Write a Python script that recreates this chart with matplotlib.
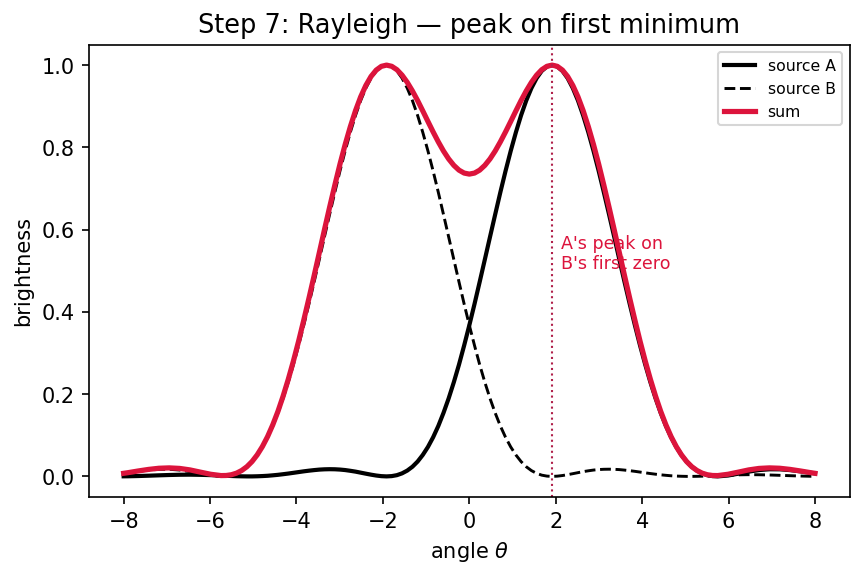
import matplotlib
matplotlib.use('Agg')
import matplotlib.pyplot as plt

# sample angles (finer spacing over the two main lobes, peaks at +-1.916)
angle = [-8.0, -7.903, -7.663, -7.424, -7.184, -6.945, -6.705, -6.466, -6.226, -5.987,
         -5.748, -5.628, -5.508, -5.388, -5.269, -5.149, -5.029, -4.909, -4.790, -4.670,
         -4.550, -4.430, -4.311, -4.191, -4.071, -3.951, -3.832, -3.712, -3.592, -3.472,
         -3.353, -3.233, -3.113, -2.994, -2.874, -2.754, -2.634, -2.515, -2.395, -2.275,
         -2.155, -2.036, -1.916, -1.796, -1.676, -1.557, -1.437, -1.317, -1.197, -1.078,
         -0.958, -0.838, -0.718, -0.599, -0.479, -0.359, -0.239, -0.120, 0.0, 0.120,
         0.239, 0.359, 0.479, 0.599, 0.718, 0.838, 0.958, 1.078, 1.197, 1.317,
         1.437, 1.557, 1.676, 1.796, 1.916, 2.036, 2.155, 2.275, 2.395, 2.515,
         2.634, 2.754, 2.874, 2.994, 3.113, 3.233, 3.353, 3.472, 3.592, 3.712,
         3.832, 3.951, 4.071, 4.191, 4.311, 4.430, 4.550, 4.670, 4.790, 4.909,
         5.029, 5.149, 5.269, 5.388, 5.508, 5.628, 5.748, 5.987, 6.226, 6.466,
         6.705, 6.945, 7.184, 7.424, 7.663, 7.903, 8.0]

source_a = [0.0002, 0.0003, 0.0009, 0.0017, 0.0026, 0.0034, 0.0040, 0.0042, 0.0038, 0.0031,
            0.0020, 0.0015, 0.0010, 0.0005, 0.0002, 0.0000, 0.0000, 0.0003, 0.0008, 0.0015,
            0.0026, 0.0038, 0.0053, 0.0069, 0.0087, 0.0105, 0.0123, 0.0139, 0.0153, 0.0165,
            0.0172, 0.0175, 0.0173, 0.0166, 0.0154, 0.0136, 0.0116, 0.0091, 0.0066, 0.0042,
            0.0021, 0.0006, 0.0000, 0.0007, 0.0030, 0.0074, 0.0141, 0.0235, 0.0361, 0.0521,
            0.0716, 0.0951, 0.1226, 0.1541, 0.1895, 0.2289, 0.2719, 0.3183, 0.3675, 0.4192,
            0.4727, 0.5274, 0.5825, 0.6372, 0.6908, 0.7425, 0.7914, 0.8367, 0.8777, 0.9137,
            0.9440, 0.9682, 0.9858, 0.9964, 1.0000, 0.9964, 0.9858, 0.9682, 0.9440, 0.9137,
            0.8777, 0.8367, 0.7914, 0.7425, 0.6908, 0.6372, 0.5825, 0.5274, 0.4727, 0.4192,
            0.3675, 0.3183, 0.2719, 0.2289, 0.1895, 0.1541, 0.1226, 0.0951, 0.0716, 0.0521,
            0.0361, 0.0235, 0.0141, 0.0074, 0.0030, 0.0007, 0.0000, 0.0021, 0.0066, 0.0116,
            0.0154, 0.0173, 0.0172, 0.0153, 0.0123, 0.0087, 0.0073]

source_b = [0.0073, 0.0087, 0.0123, 0.0153, 0.0172, 0.0173, 0.0154, 0.0116, 0.0066, 0.0021,
            0.0000, 0.0007, 0.0030, 0.0074, 0.0141, 0.0235, 0.0361, 0.0521, 0.0716, 0.0951,
            0.1226, 0.1541, 0.1895, 0.2289, 0.2719, 0.3183, 0.3675, 0.4192, 0.4727, 0.5274,
            0.5825, 0.6372, 0.6908, 0.7425, 0.7914, 0.8367, 0.8777, 0.9137, 0.9440, 0.9682,
            0.9858, 0.9964, 1.0000, 0.9964, 0.9858, 0.9682, 0.9440, 0.9137, 0.8777, 0.8367,
            0.7914, 0.7425, 0.6908, 0.6372, 0.5825, 0.5274, 0.4727, 0.4192, 0.3675, 0.3183,
            0.2719, 0.2289, 0.1895, 0.1541, 0.1226, 0.0951, 0.0716, 0.0521, 0.0361, 0.0235,
            0.0141, 0.0074, 0.0030, 0.0007, 0.0000, 0.0006, 0.0021, 0.0042, 0.0066, 0.0091,
            0.0116, 0.0136, 0.0154, 0.0166, 0.0173, 0.0175, 0.0172, 0.0165, 0.0153, 0.0139,
            0.0123, 0.0105, 0.0087, 0.0069, 0.0053, 0.0038, 0.0026, 0.0015, 0.0008, 0.0003,
            0.0000, 0.0000, 0.0002, 0.0005, 0.0010, 0.0015, 0.0020, 0.0031, 0.0038, 0.0042,
            0.0040, 0.0034, 0.0026, 0.0017, 0.0009, 0.0003, 0.0002]

total = [0.0075, 0.0090, 0.0132, 0.0170, 0.0198, 0.0207, 0.0194, 0.0158, 0.0104, 0.0052,
         0.0020, 0.0022, 0.0040, 0.0079, 0.0143, 0.0235, 0.0361, 0.0524, 0.0724, 0.0966,
         0.1252, 0.1579, 0.1948, 0.2358, 0.2806, 0.3288, 0.3798, 0.4331, 0.4880, 0.5439,
         0.5997, 0.6547, 0.7081, 0.7591, 0.8068, 0.8503, 0.8893, 0.9228, 0.9506, 0.9724,
         0.9879, 0.9970, 1.0000, 0.9971, 0.9888, 0.9756, 0.9581, 0.9372, 0.9138, 0.8888,
         0.8630, 0.8376, 0.8134, 0.7913, 0.7720, 0.7563, 0.7446, 0.7375, 0.7350, 0.7375,
         0.7446, 0.7563, 0.7720, 0.7913, 0.8134, 0.8376, 0.8630, 0.8888, 0.9138, 0.9372,
         0.9581, 0.9756, 0.9888, 0.9971, 1.0000, 0.9970, 0.9879, 0.9724, 0.9506, 0.9228,
         0.8893, 0.8503, 0.8068, 0.7591, 0.7081, 0.6547, 0.5997, 0.5439, 0.4880, 0.4331,
         0.3798, 0.3288, 0.2806, 0.2358, 0.1948, 0.1579, 0.1252, 0.0966, 0.0724, 0.0524,
         0.0361, 0.0235, 0.0143, 0.0079, 0.0040, 0.0022, 0.0020, 0.0052, 0.0104, 0.0158,
         0.0194, 0.0207, 0.0198, 0.0170, 0.0132, 0.0090, 0.0075]

peak_a = 1.916

fig = plt.figure(figsize=(5.75, 3.85), dpi=150)
ax = fig.add_axes([0.1033, 0.1386, 0.8817, 0.7834])
ax.plot(angle, source_a, color='black', lw=2, label='source A')
ax.plot(angle, source_b, color='black', lw=1.4, ls='--', label='source B')
ax.plot(angle, total, color='crimson', lw=2.5, label='sum')
ax.axvline(peak_a, color='#b0204a', lw=1, ls=':')
ax.text(peak_a + 0.2, 0.495, "A's peak on\nB's first zero", color='crimson', fontsize=8.4, va='bottom')

ax.set_title('Step 7: Rayleigh — peak on first minimum', fontsize=12.3)
ax.set_xlabel(r'angle $\theta$')
ax.set_ylabel('brightness')
ax.legend(loc='upper right', fontsize=7.5)
fig.savefig('out.png')
